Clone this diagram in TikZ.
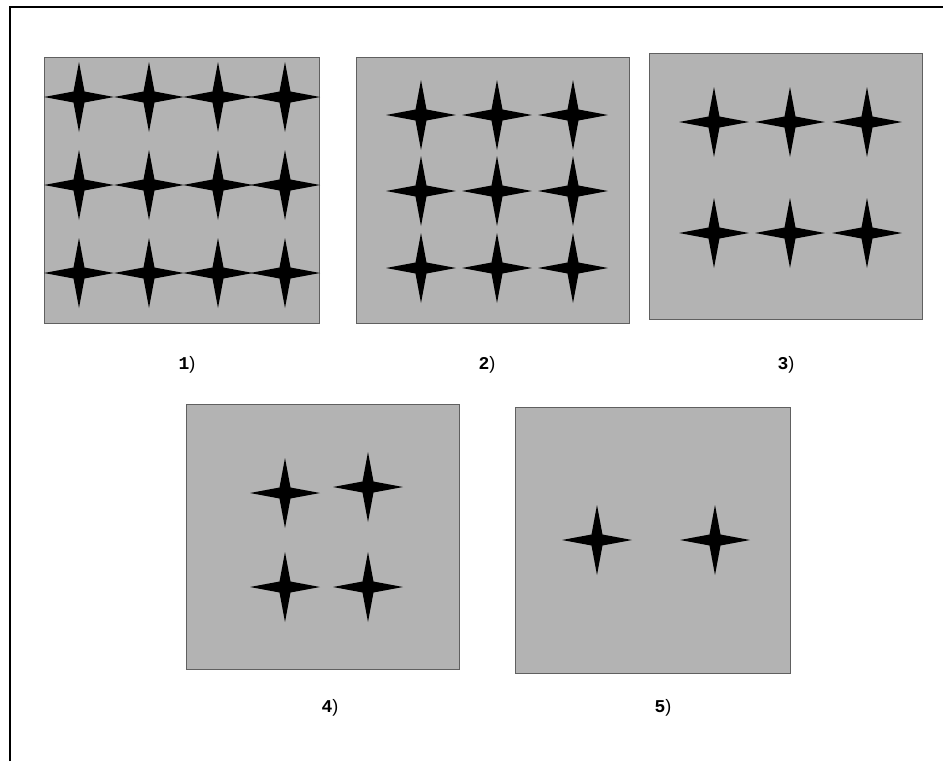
\documentclass[tikz,border=0pt]{standalone}
\usepackage{fontspec}
\setmonofont{Liberation Mono}
\newfontfamily\parenfont{Liberation Sans}
\definecolor{panelgray}{HTML}{B3B3B3}
\definecolor{edgegray}{HTML}{606060}
\tikzset{
  panel/.style={fill=panelgray, draw=edgegray, line width=1pt},
  lbl/.style={font=\fontsize{18}{20}\selectfont, inner sep=0pt},
  frameline/.style={line width=2.4pt, black},
  pics/star4/.style={code={
    \fill[black] (35,0) -- (5.5,5.5) -- (0,35) -- (-5.5,5.5) -- (-35,0) -- (-5.5,-5.5) -- (0,-35) -- (5.5,-5.5) -- cycle;
  }}
}
\newcommand{\numlbl}[1]{{\ttfamily\bfseries #1}{\parenfont )}}
\begin{document}
\begin{tikzpicture}[x=1pt,y=-1pt]
\useasboundingbox (0,0) rectangle (943,761);
% frame
\draw[frameline] (10,761) -- (10,7) -- (943,7);
% panels
\draw[panel] (44,57) rectangle (319,323);
\draw[panel] (356,57) rectangle (629,323);
\draw[panel] (649,53) rectangle (922,319);
\draw[panel] (186,404) rectangle (459,669);
\draw[panel] (515,407) rectangle (790,673);
% panel 1 stars
\foreach \x in {79,149,218,285}
  \foreach \y in {97,185,273}
    \pic at (\x,\y) {star4};
% panel 2 stars
\foreach \x in {421,497,573}
  \foreach \y in {115,191,268}
    \pic at (\x,\y) {star4};
% panel 3 stars
\foreach \x in {714,790,867}
  \foreach \y in {122,233}
    \pic at (\x,\y) {star4};
% panel 4 stars
\pic at (285,493) {star4};
\pic at (368,487) {star4};
\pic at (285,587) {star4};
\pic at (368,587) {star4};
% panel 5 stars
\pic at (597,540) {star4};
\pic at (715,540) {star4};
% labels
\node[lbl] (l1) at (187,365) {\numlbl{1}};
\node[lbl] (l2) at (487,365) {\numlbl{2}};
\node[lbl] (l3) at (786,365) {\numlbl{3}};
\node[lbl] (l4) at (330,708) {\numlbl{4}};
\node[lbl] (l5) at (663,708) {\numlbl{5}};
\end{tikzpicture}
\end{document}
